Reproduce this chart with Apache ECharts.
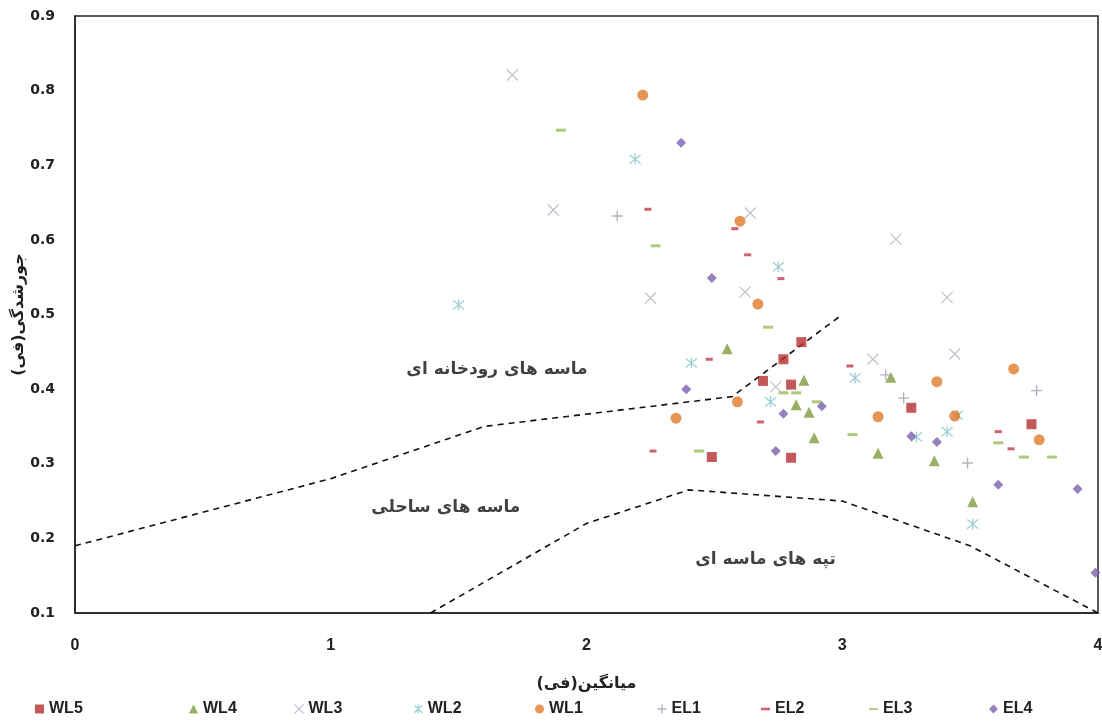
<!DOCTYPE html>
<html>
<head>
<meta charset="utf-8">
<title>sorting vs mean</title>
<script src="https://cdn.jsdelivr.net/npm/echarts@6/dist/echarts.min.js"></script>
<style>
  html, body { margin: 0; padding: 0; background: #fff; }
  #chart { width: 1102px; height: 721px; }
</style>
</head>
<body>
<div id="chart"></div>
<script>
// values: [mean (phi), sorting (phi)]
const wl5 = [[2.84,0.463],[2.77,0.440],[2.69,0.411],[2.80,0.406],[2.49,0.309],[2.80,0.308],[3.27,0.375],[3.74,0.353]];
const wl4 = [[2.55,0.454],[2.85,0.412],[2.82,0.379],[2.87,0.369],[2.89,0.335],[3.19,0.416],[3.14,0.314],[3.36,0.304],[3.51,0.249]];
const wl3 = [[1.71,0.821],[1.87,0.640],[2.25,0.522],[2.64,0.636],[2.62,0.530],[2.74,0.403],[3.21,0.601],[3.41,0.523],[3.44,0.447],[3.12,0.440]];
const wl2 = [[1.50,0.513],[2.19,0.708],[2.75,0.564],[2.41,0.435],[3.05,0.415],[2.72,0.383],[3.45,0.365],[3.29,0.336],[3.41,0.343],[3.51,0.219]];
const wl1 = [[2.22,0.794],[2.60,0.625],[2.67,0.514],[2.59,0.383],[2.35,0.361],[3.14,0.363],[3.37,0.410],[3.44,0.364],[3.67,0.427],[3.77,0.332]];
const el1 = [[2.12,0.632],[3.17,0.419],[3.24,0.388],[3.76,0.398],[3.49,0.301]];
const el2 = [[2.24,0.641],[2.58,0.615],[2.63,0.580],[2.76,0.548],[2.48,0.440],[3.03,0.431],[2.68,0.356],[2.26,0.317],[3.61,0.343],[3.66,0.320]];
const el3 = [[1.90,0.747],[2.27,0.592],[2.71,0.483],[2.77,0.395],[2.82,0.395],[2.90,0.383],[3.04,0.339],[2.44,0.317],[3.61,0.328],[3.71,0.309],[3.82,0.309]];
const el4 = [[2.37,0.730],[2.49,0.549],[2.39,0.400],[2.92,0.377],[2.77,0.367],[2.74,0.317],[3.27,0.337],[3.37,0.329],[3.61,0.272],[3.92,0.266],[3.99,0.154]];

// environment boundaries (dashed)
const boundaryRiver = [[0,0.19],[1,0.28],[1.6,0.35],[2.57,0.39],[3.0,0.50]];
const boundaryDune = [[1.39,0.1],[2.0,0.22],[2.4,0.265],[3.0,0.25],[3.5,0.19],[4.0,0.1]];

const regionNames = ['ماسه های رودخانه ای', 'ماسه های ساحلی', 'تپه های ماسه ای'];
const regionPoints = [[1.65,0.426],[1.45,0.241],[2.70,0.171]];

const xName = 'میانگین(فی)';
const yName = 'جورشدگی(فی)';

const persianFont = '"DejaVu Sans", sans-serif';
const latinFont = '"Liberation Sans Narrow", "Liberation Sans", Arial, sans-serif';

const xShape = 'path://M0,0L10,10M10,0L0,10';
const starShape = 'path://M0,0L10,10M10,0L0,10M5,-1L5,11';
const plusShape = 'path://M5,0L5,10M0,5L10,5';

var groups = [
  { name: 'WL5', data: wl5, symbol: 'rect', size: 10, color: '#b5302f', left: 30 },
  { name: 'WL4', data: wl4, symbol: 'triangle', size: 11, color: '#7f9b3c', left: 184 },
  { name: 'WL3', data: wl3, symbol: xShape, size: 11, color: '#b4b4c4', line: true, left: 287 },
  { name: 'WL2', data: wl2, symbol: starShape, size: 11, color: '#86c3c9', line: true, left: 407 },
  { name: 'WL1', data: wl1, symbol: 'circle', size: 11, color: '#e07a2b', left: 530 },
  { name: 'EL1', data: el1, symbol: plusShape, size: 11, color: '#9c9cab', line: true, left: 650 },
  { name: 'EL2', data: el2, symbol: 'rect', size: [7, 3], color: '#c23a4c', left: 756 },
  { name: 'EL3', data: el3, symbol: 'rect', size: [10, 3], color: '#9bbb59', left: 864 },
  { name: 'EL4', data: el4, symbol: 'diamond', size: 10, color: '#7a62ad', left: 984 }
];

function itemStyleOf(g) {
  if (g.line) {
    return { color: 'none', borderColor: g.color, borderWidth: 1.3 };
  }
  return { color: g.color };
}

var series = groups.map(function (g) {
  return {
    name: g.name,
    type: 'scatter',
    data: g.data,
    symbol: g.symbol,
    symbolSize: g.size,
    itemStyle: itemStyleOf(g),
    z: 3
  };
});

series.push({
  type: 'line',
  data: boundaryRiver,
  symbol: 'none',
  lineStyle: { color: '#111', width: 1.6, type: [6, 5] },
  silent: true,
  z: 2
});
series.push({
  type: 'line',
  data: boundaryDune,
  symbol: 'none',
  lineStyle: { color: '#111', width: 1.6, type: [6, 5] },
  silent: true,
  z: 2
});
series.push({
  type: 'scatter',
  data: regionPoints.map(function (p, i) { return { value: p, name: regionNames[i] }; }),
  symbolSize: 0,
  silent: true,
  label: {
    show: true,
    position: 'inside',
    formatter: '{b}',
    fontFamily: persianFont,
    fontSize: 17,
    fontWeight: 'bold',
    color: '#111'
  },
  z: 4
});

var legends = groups.map(function (g) {
  var icon = g.symbol;
  if (g.name === 'EL2') icon = 'path://M0,4L7,4L7,6L0,6Z';
  if (g.name === 'EL3') icon = 'path://M0,4L10,4L10,6L0,6Z';
  return {
    data: [{ name: g.name, icon: icon, itemStyle: itemStyleOf(g) }],
    left: g.left,
    top: 696,
    itemWidth: 9,
    itemHeight: 9,
    textStyle: { fontFamily: latinFont, fontWeight: 'bold', fontSize: 16, color: '#222' }
  };
});

var chart = echarts.init(document.getElementById('chart'), null, { renderer: 'canvas' });

chart.setOption({
  animation: false,
  backgroundColor: '#fff',
  grid: {
    left: 75, right: 4, top: 16, bottom: 108,
    outerBoundsMode: 'none',
    containLabel: false,
    show: true, borderColor: '#222', borderWidth: 1.5
  },
  legend: legends,
  xAxis: {
    type: 'value',
    min: 0, max: 4, interval: 1,
    name: xName,
    nameLocation: 'middle',
    nameGap: 63,
    nameMoveOverlap: false,
    nameTextStyle: { fontFamily: persianFont, fontSize: 16, fontWeight: 'bold', color: '#222' },
    axisLine: { show: true, lineStyle: { color: '#222', width: 1.5 } },
    axisTick: { show: false },
    splitLine: { show: false },
    axisLabel: { margin: 25, fontFamily: latinFont, fontWeight: 'bold', fontSize: 16, color: '#222' }
  },
  yAxis: {
    type: 'value',
    min: 0.1, max: 0.9, interval: 0.1,
    name: yName,
    nameLocation: 'middle',
    nameRotate: 90,
    nameGap: 48,
    nameMoveOverlap: false,
    nameTextStyle: { fontFamily: persianFont, fontSize: 16, fontWeight: 'bold', color: '#222' },
    axisLine: { show: true, lineStyle: { color: '#222', width: 1.5 } },
    axisTick: { show: false },
    splitLine: { show: false },
    axisLabel: {
      margin: 20,
      fontFamily: '"DejaVu Sans", sans-serif',
      fontWeight: 'bold',
      fontSize: 14,
      color: '#222',
      formatter: function (v) { return v.toFixed(1); }
    }
  },
  series: series
});
</script>
</body>
</html>
